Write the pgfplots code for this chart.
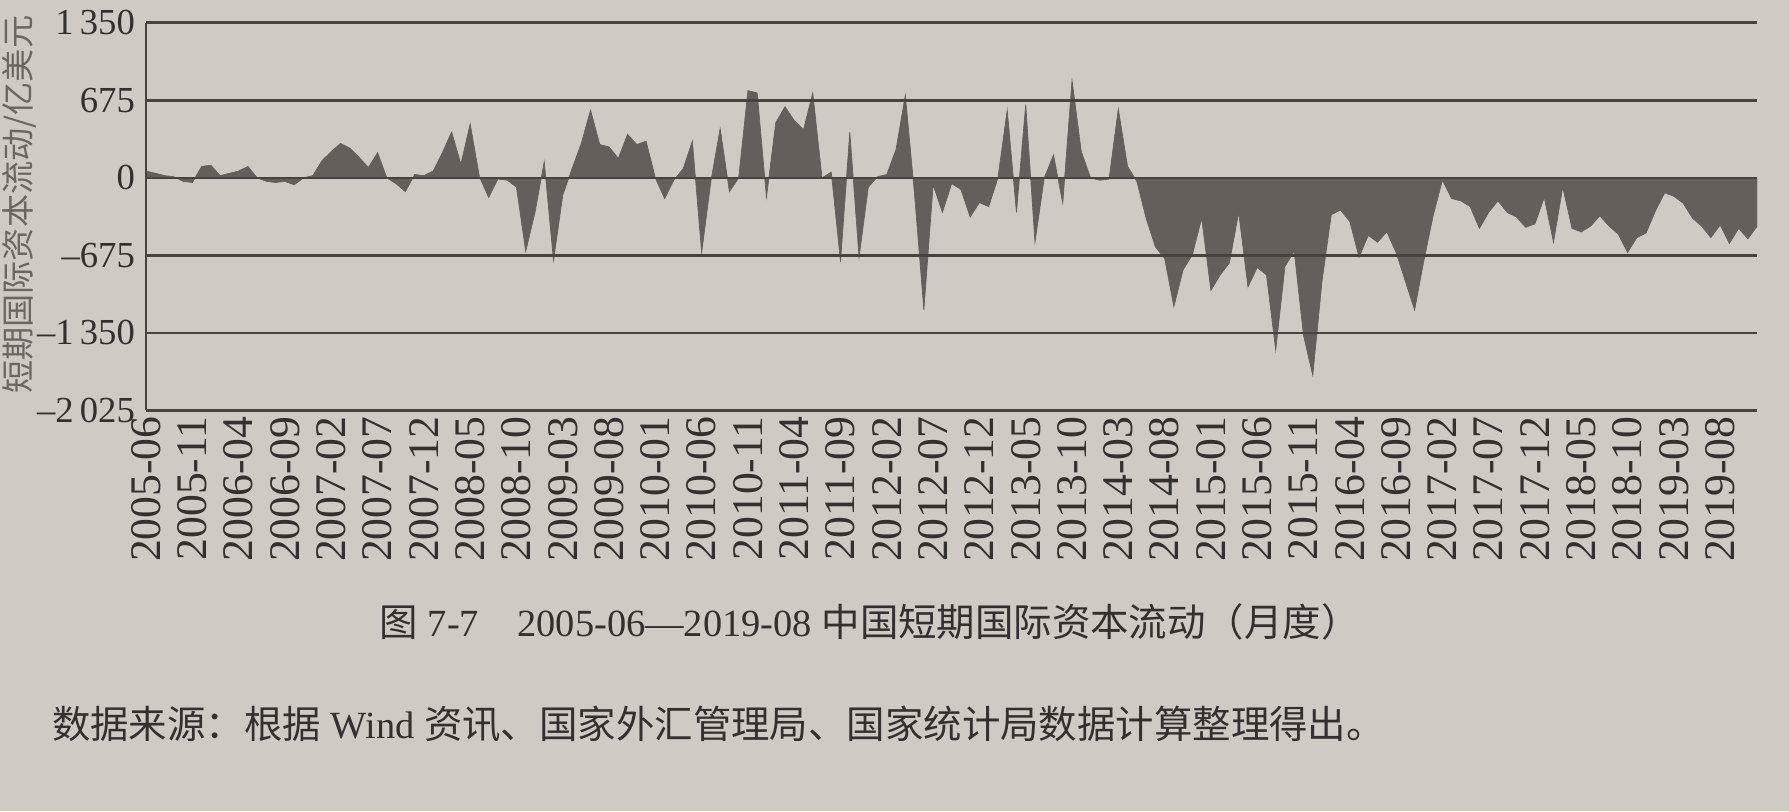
\documentclass[border=0pt]{standalone}
\usepackage{fontspec}
\setmainfont{Liberation Serif}
\newfontfamily\cjk{Noto Sans CJK SC}
\usepackage{pgfplots}
\usepackage{pgfplotstable}
\pgfplotsset{compat=1.18}
\definecolor{pagebg}{RGB}{207,202,196}
\definecolor{areagray}{RGB}{100,95,91}
\definecolor{gridcol}{RGB}{72,67,62}
\definecolor{textcol}{RGB}{52,48,45}

\pgfplotstableread{
m v
0 60
1 40
2 20
3 10
4 -30
5 -40
6 100
7 110
8 20
9 40
10 60
11 100
12 0
13 -30
14 -40
15 -30
16 -60
17 0
18 20
19 150
20 230
21 300
22 260
23 180
24 90
25 220
26 0
27 -50
28 -120
29 30
30 20
31 60
32 220
33 400
34 120
35 470
36 10
37 -170
38 -10
39 -20
40 -80
41 -640
42 -300
43 140
44 -720
45 -150
46 80
47 300
48 590
49 290
50 270
51 170
52 380
53 290
54 320
55 0
56 -180
57 -20
58 80
59 320
60 -650
61 -30
62 430
63 -120
64 0
65 760
66 740
67 -170
68 480
69 620
70 500
71 420
72 740
73 0
74 50
75 -730
76 400
77 -690
78 -80
79 10
80 30
81 250
82 720
83 -150
84 -1150
85 -60
86 -300
87 -50
88 -100
89 -340
90 -215
91 -250
92 0
93 590
94 -300
95 640
96 -560
97 0
98 200
99 -220
100 850
101 230
102 0
103 -20
104 -10
105 600
106 100
107 -30
108 -350
109 -600
110 -700
111 -1120
112 -800
113 -670
114 -350
115 -980
116 -845
117 -740
118 -300
119 -950
120 -780
121 -845
122 -1500
123 -770
124 -640
125 -1370
126 -1720
127 -900
128 -320
129 -280
130 -380
131 -690
132 -500
133 -560
134 -470
135 -650
136 -900
137 -1150
138 -720
139 -330
140 -20
141 -180
142 -200
143 -250
144 -440
145 -300
146 -200
147 -300
148 -340
149 -430
150 -400
151 -170
152 -560
153 -80
154 -440
155 -470
156 -420
157 -330
158 -420
159 -490
160 -650
161 -520
162 -480
163 -290
164 -130
165 -160
166 -220
167 -350
168 -420
169 -520
170 -410
171 -570
172 -440
173 -530
174 -420
}\flowdata

\begin{document}
\begin{tikzpicture}
\path[use as bounding box] (0,0) rectangle (18cm,8.16cm);
\clip (0,0) rectangle (18cm,8.16cm);
\fill[pagebg] (0,0) rectangle (18cm,8.16cm);
\begin{axis}[
  at={(1.47cm,4.03cm)}, anchor=south west,
  scale only axis, width=16.21cm, height=3.9cm,
  xmin=0, xmax=174, ymin=-2025, ymax=1350,
  axis x line*=bottom, axis y line*=left,
  axis line style={draw=gridcol, line width=0.8pt},
  ymajorgrids, grid style={draw=gridcol, line width=0.8pt},
  ytick={-2025,-1350,-675,0,675,1350},
  yticklabels={–2\,025,–1\,350,–675,0,675,1\,350},
  xtick={0,5,...,170},
  xticklabels={2005-06,2005-11,2006-04,2006-09,2007-02,2007-07,2007-12,2008-05,2008-10,2009-03,2009-08,2010-01,2010-06,2010-11,2011-04,2011-09,2012-02,2012-07,2012-12,2013-05,2013-10,2014-03,2014-08,2015-01,2015-06,2015-11,2016-04,2016-09,2017-02,2017-07,2017-12,2018-05,2018-10,2019-03,2019-08},
  major tick length=0pt,
  tick style={draw=none},
  xticklabel style={rotate=90, anchor=east, font=\fontsize{12.5}{13}\selectfont, text=textcol, inner sep=1.5pt},
  yticklabel style={font=\fontsize{10.5}{11}\selectfont, text=textcol, inner sep=3pt},
  axis on top,
]
\addplot[fill=areagray, draw=areagray, line width=0.2pt] table[x=m,y=v] {\flowdata} \closedcycle;
\end{axis}
\node[rotate=90, text=textcol!65!pagebg, font=\fontsize{9.5}{10}\selectfont, inner sep=0pt] at (0.2cm,6.1cm) {\cjk 短期国际资本流动/亿美元};
\node[text=textcol, font=\fontsize{11}{12}\selectfont] at (8.75cm,1.9cm) {{\cjk 图} 7-7\quad 2005-06—2019-08 {\cjk 中国短期国际资本流动（月度）}};
\node[anchor=west, text=textcol, font=\fontsize{11}{12}\selectfont] at (0.4cm,0.87cm) {{\cjk 数据来源：根据} Wind {\cjk 资讯、国家外汇管理局、国家统计局数据计算整理得出。}};
\end{tikzpicture}
\end{document}
